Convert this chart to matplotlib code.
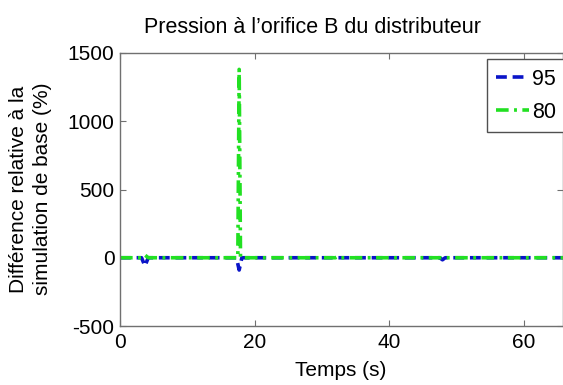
import matplotlib
matplotlib.use("Agg")
import matplotlib.pyplot as plt

plt.rcParams['font.family'] = ['Liberation Sans', 'DejaVu Sans']
plt.rcParams['axes.unicode_minus'] = False

# Data
t_95 = [0, 3.2, 3.7, 4.2, 17.3, 17.7, 18.1, 47.5, 47.9, 48.3, 70]
y_95 = [0, 0, -60, 0, 0, -90, 0, 0, -15, 0, 0]
t_80 = [0, 3.2, 3.7, 4.2, 17.5, 17.7, 17.9, 32.0, 32.4, 32.8, 70]
y_80 = [0, 0, 20, 0, 0, 1380, 0, 0, 10, 0, 0]
labels = ['95', '80']
title = "Pression à l’orifice B du distributeur"
xlabel = "Temps (s)"
ylabel = "Différence relative à la\nsimulation de base (%)"
xticks = [0, 20, 40, 60]
yticks = [-500, 0, 500, 1000, 1500]

W, H = 563, 385
fig = plt.figure(figsize=(W/100, H/100), dpi=100)
ax = fig.add_axes([120/W, 1-326/H, 443/W, 273/H])

ax.plot(t_95, y_95, color='#0a14c8', ls=(0, (3, 1.6)), lw=2.6, label=labels[0])
ax.plot(t_80, y_80, color='#22e022', ls=(0, (3.5, 1.5, 0.8, 1.5)), lw=2.6, label=labels[1])

ax.set_xlim(0, 65.8)
ax.set_ylim(-500, 1500)
ax.set_xticks(xticks)
ax.set_yticks(yticks)
ax.tick_params(direction='in', top=True, right=True, length=4, width=0.8,
               color='#707070', labelsize=15)
ax.tick_params(axis='x', pad=5)
ax.tick_params(axis='y', pad=4)
for s in ax.spines.values():
    s.set_color('#707070')
    s.set_linewidth(1.0)

fig.text(312/W, 1-33/H, title, fontsize=15.5, ha='center', va='baseline')
fig.text(341/W, 1-376/H, xlabel, fontsize=15, ha='center', va='baseline')
fig.text(9/W, 1-189/H, ylabel, fontsize=15, ha='left', va='center',
         rotation=90, linespacing=1.3, multialignment='center')

leg = ax.legend(loc='upper left', bbox_to_anchor=(0.828, 0.978), fontsize=15.5,
                fancybox=False, framealpha=1, edgecolor='#505050',
                handlelength=1.5, handletextpad=0.15, borderpad=0.45,
                labelspacing=0.55, borderaxespad=0)
leg.get_frame().set_linewidth(1.0)

fig.savefig('out.png', dpi=100)
